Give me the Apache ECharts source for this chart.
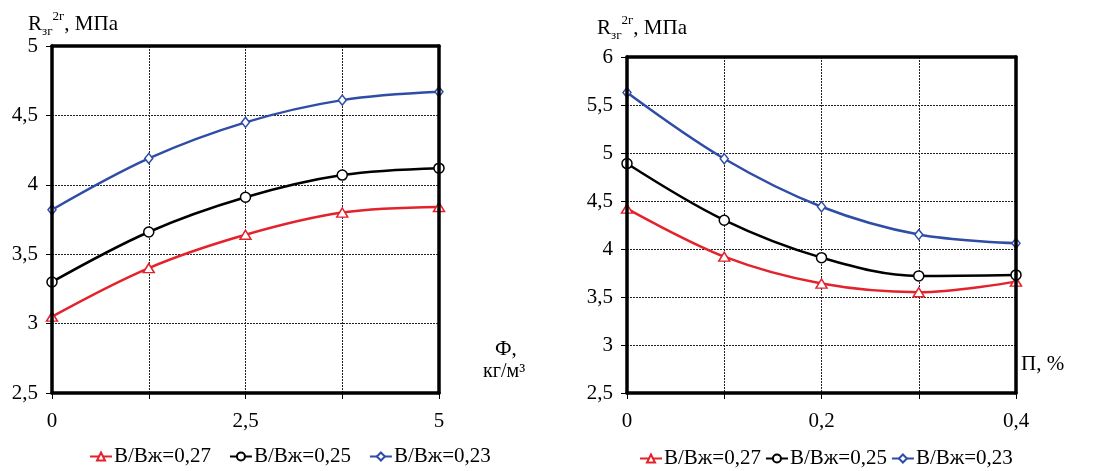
<!DOCTYPE html>
<html><head><meta charset="utf-8">
<script src="https://cdn.jsdelivr.net/npm/echarts@6/dist/echarts.min.js"></script>
<style>html,body{margin:0;padding:0;background:#fff}#c{width:1108px;height:471px}</style>
</head><body><div id="c"></div>
<script>
// ---- data ----
const seriesNames = ['В/Вж=0,27', 'В/Вж=0,25', 'В/Вж=0,23'];
const leftX = [0, 1.25, 2.5, 3.75, 5];
const leftRed = [3.05, 3.40, 3.64, 3.80, 3.84];
const leftBlack = [3.30, 3.66, 3.91, 4.07, 4.12];
const leftBlue = [3.82, 4.19, 4.45, 4.61, 4.67];
const rightX = [0, 0.1, 0.2, 0.3, 0.4];
const rightRed = [4.42, 3.92, 3.64, 3.55, 3.66];
const rightBlack = [4.89, 4.30, 3.91, 3.72, 3.73];
const rightBlue = [5.63, 4.94, 4.44, 4.15, 4.06];
const leftXTickLabels = [0, 2.5, 5];
const rightXTickLabels = [0, 0.2, 0.4];
const leftYTicks = {min: 2.5, max: 5, step: 0.5};
const rightYTicks = {min: 2.5, max: 6, step: 0.5};

// ---- layout / styling ----
const FONT = 'Liberation Serif';
const grids = [
  {left: 52, top: 46, width: 387, height: 347},
  {left: 627, top: 57, width: 389, height: 336}
];
const colors = ['#e3222b', '#000000', '#2f4da6'];
const symbols = ['triangle', 'circle', 'diamond'];
const symSizes = [[11, 9], 10, [8, 10]];
const fmt = v => String(Math.round(v * 100) / 100).replace('.', ',');

function mkSeries(xs, arrs, gi) {
  return arrs.map((vals, k) => ({
    name: seriesNames[k], type: 'line', xAxisIndex: gi * 3, yAxisIndex: gi * 3,
    smooth: 0.35, data: xs.map((x, i) => [x, vals[i]]),
    symbol: symbols[k], symbolSize: symSizes[k], showSymbol: true,
    lineStyle: {color: colors[k], width: 2.5},
    itemStyle: {color: '#fff', borderColor: colors[k], borderWidth: 1.5},
    z: 3 + k
  }));
}
const split = () => ({show: true, showMinLine: false, showMaxLine: false, lineStyle: {color: '#222', width: 1, type: [2, 1]}});
function frameAxis(gi, pos, min, max, offset) {
  return {type: 'value', gridIndex: gi, position: pos, offset: offset, min: min, max: max, z: 10,
    axisLine: {show: true, onZero: false, lineStyle: {color: '#000', width: 3.5}},
    axisTick: {show: false}, splitLine: {show: false}, axisLabel: {show: false}};
}
function xAxes(gi, max, interval, labels) {
  return [{type: 'value', gridIndex: gi, position: 'bottom', min: 0, max: max, interval: interval,
    axisLine: {show: false},
    axisTick: {show: true, length: 6, lineStyle: {color: '#000', width: 1}},
    splitLine: split(),
    axisLabel: {color: '#000', fontFamily: FONT, fontSize: 21, margin: 18,
      formatter: v => labels.some(l => Math.abs(l - v) < 1e-9) ? fmt(v) : ''}},
   frameAxis(gi, 'top', 0, max, 0), frameAxis(gi, 'top', 0, max, -grids[gi].height)];
}
function yAxes(gi, t) {
  return [{type: 'value', gridIndex: gi, position: 'left', min: t.min, max: t.max, interval: t.step,
    axisLine: {show: false},
    axisTick: {show: true, length: 6, lineStyle: {color: '#000', width: 1}},
    splitLine: split(),
    axisLabel: {color: '#000', fontFamily: FONT, fontSize: 21, margin: 14, formatter: fmt}},
   frameAxis(gi, 'right', t.min, t.max, 0), frameAxis(gi, 'right', t.min, t.max, -grids[gi].width)];
}
const rich = {
  r: {fontFamily: FONT, fontSize: 21, fontWeight: 'normal', color: '#000', lineHeight: 28},
  s: {fontFamily: FONT, fontSize: 13, fontWeight: 'normal', color: '#000', verticalAlign: 'bottom', lineHeight: 13},
  p: {fontFamily: FONT, fontSize: 13, fontWeight: 'normal', color: '#000', verticalAlign: 'top', lineHeight: 13}
};
const titleText = '{r|R}{s|зг}{p|2г}{r|, МПа}';

const option = {
  animation: false,
  backgroundColor: '#fff',
  title: [
    {text: titleText, left: 23, top: 5, textStyle: {fontWeight: 'normal', rich: rich}},
    {text: titleText, left: 592, top: 9, textStyle: {fontWeight: 'normal', rich: rich}}
  ],
  grid: grids,
  xAxis: [].concat(xAxes(0, 5, 1.25, leftXTickLabels), xAxes(1, 0.4, 0.1, rightXTickLabels)),
  yAxis: [].concat(yAxes(0, leftYTicks), yAxes(1, rightYTicks)),
  legend: [
    {data: seriesNames, left: 84, top: 441, itemWidth: 22, itemHeight: 10, itemGap: 18,
      textStyle: {fontFamily: FONT, fontSize: 21, color: '#000', padding: [0, 0, 0, -3]}},
    {data: seriesNames, left: 634, top: 443, itemWidth: 22, itemHeight: 10, itemGap: 4,
      textStyle: {fontFamily: FONT, fontSize: 21, color: '#000', padding: [0, 0, 0, -3]}}
  ],
  graphic: [
    {type: 'text', left: 495, top: 339, style: {text: 'Ф,', font: '21px "Liberation Serif"', fill: '#000'}},
    {type: 'text', left: 483, top: 362, style: {text: 'кг/м³', font: '20px "Liberation Serif"', fill: '#000'}},
    {type: 'text', left: 1021, top: 354, style: {text: 'П, %', font: '21px "Liberation Serif"', fill: '#000'}}
  ],
  series: [].concat(
    mkSeries(leftX, [leftRed, leftBlack, leftBlue], 0),
    mkSeries(rightX, [rightRed, rightBlack, rightBlue], 1)
  )
};
echarts.init(document.getElementById('c'), null, {renderer: 'canvas'}).setOption(option);
</script></body></html>
